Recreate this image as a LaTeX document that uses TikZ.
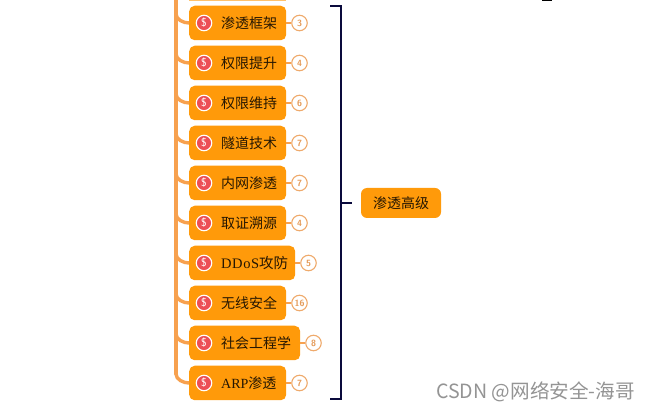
\documentclass[tikz,border=0pt]{standalone}
\usepackage{fontspec}
\setmainfont{Liberation Serif}
\newfontfamily\cjkfont{Noto Sans CJK SC}
\definecolor{nodeor}{HTML}{FF9A0A}
\definecolor{lineor}{HTML}{F7A14F}
\definecolor{badgeln}{HTML}{EFAA6C}
\definecolor{badgetx}{HTML}{E49A58}
\definecolor{brk}{HTML}{0A0A3C}
\definecolor{iconred}{HTML}{EC4F55}
\tikzset{
  topic/.style={fill=nodeor,rounded corners=5.5pt,minimum height=34.5pt,anchor=west,inner sep=0pt},
  topiclabel/.style={anchor=west,inner sep=0pt,text=black!85!nodeor,font=\fontsize{14pt}{15pt}\selectfont},
  badge/.style={circle,draw=badgeln,line width=1.1pt,fill=white,minimum size=15.5pt,inner sep=0pt,text=badgetx,font=\sffamily\bfseries\fontsize{9pt}{10pt}\selectfont},
  icon/.style={circle,draw=white,line width=1.1pt,fill=iconred,minimum size=15.5pt,inner sep=0pt,text=white,font=\sffamily\fontsize{11.5pt}{11.5pt}\selectfont},
  spine/.style={draw=lineor,line width=3.4pt,line cap=round},
  link/.style={draw=lineor,line width=2pt},
  bracket/.style={draw=brk,line width=2pt},
  root/.style={fill=nodeor,rounded corners=6pt,minimum width=80pt,minimum height=30pt,inner sep=0pt,text=black!85!nodeor,font=\fontsize{14pt}{15pt}\selectfont}
}
\newcommand{\cj}[1]{{\cjkfont #1}}
\newcommand{\topicrow}[5]{%
  \node[topic,minimum width=#3pt] (n#1) at (189,#2) {};
  \node[icon] (i#1) at (204,#2) {\$};
  \node[topiclabel] (t#1) at (221,#2) {#4};
  \node[badge] (b#1) at (189+#3+13.5,#2) {#5};
  \draw[link] (n#1.east) -- (b#1.west);
  \draw[spine,line cap=butt] (176,#2-9) to[out=-90,in=180,looseness=0.9] (n#1.west);
}
\begin{document}
\begin{tikzpicture}[x=1pt,y=-1pt]
\useasboundingbox (0,0) rectangle (648,411);
\fill[white] (0,0) rectangle (648,411);
\draw[spine] (176,-5) -- (176,374);
\topicrow{a}{23}{97}{\cj{渗透框架}}{3}
\topicrow{b}{63}{97}{\cj{权限提升}}{4}
\topicrow{c}{103}{97}{\cj{权限维持}}{6}
\topicrow{d}{143}{97}{\cj{隧道技术}}{7}
\topicrow{e}{183}{97}{\cj{内网渗透}}{7}
\topicrow{f}{223}{97}{\cj{取证溯源}}{4}
\topicrow{g}{263}{106}{\fontsize{14.5pt}{15pt}\selectfont\addfontfeature{LetterSpace=4}DDoS\cj{攻防}}{5}
\topicrow{h}{303}{97}{\cj{无线安全}}{16}
\topicrow{i}{343}{111}{\cj{社会工程学}}{8}
\topicrow{j}{383}{97}{ARP\cj{渗透}}{7}
\fill[nodeor!60!white] (189,-6) rectangle (286,1);
\node[root] (r) at (401,203) {\cj{渗透高级}};
\coordinate (bt0) at (330,6);
\coordinate (bt) at (341,6);
\coordinate (bb) at (341,399);
\coordinate (bb0) at (330,399);
\coordinate (bm) at (341,203);
\coordinate (bm1) at (352,203);
\draw[bracket] (bt0) -- (bt) -- (bb) -- (bb0);
\draw[bracket] (bm) -- (bm1);
\fill[black] (542,0) rectangle (552,1);
\node[anchor=west,inner sep=0pt,text=black!42,font=\cjkfont\fontsize{19.6pt}{20pt}\selectfont] (wm) at (436,392) {CSDN @网络安全-海哥};
\end{tikzpicture}
\end{document}
